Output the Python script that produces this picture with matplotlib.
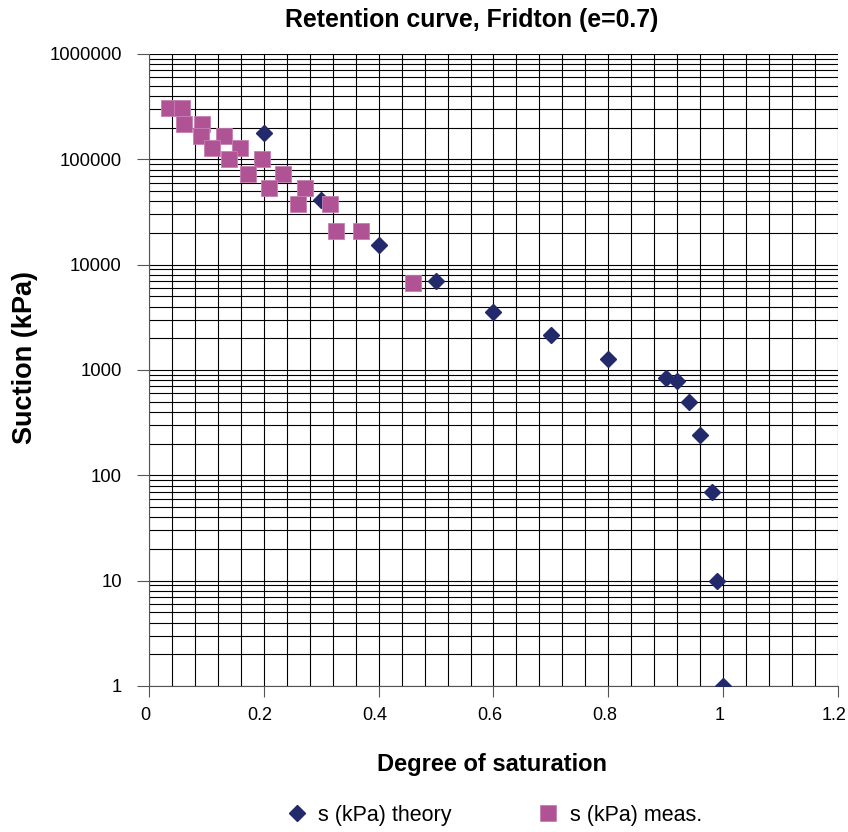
import numpy as np
import matplotlib
matplotlib.use("Agg")
import matplotlib.pyplot as plt
import matplotlib.transforms as mtransforms
from matplotlib.ticker import MultipleLocator, LogLocator, FuncFormatter, NullFormatter

plt.rcParams['font.family'] = ['Liberation Sans', 'DejaVu Sans']

# --- data ---
sr_theory = [0.2, 0.3, 0.4, 0.5, 0.6, 0.7, 0.8, 0.9, 0.92, 0.94, 0.96, 0.98, 0.99, 1.0]
s_theory = [176000, 41000, 15400, 7000, 3580, 2130, 1270, 840, 790, 498, 242, 70, 10, 1]

sr_meas = [0.035, 0.058, 0.061, 0.093, 0.090, 0.131, 0.110, 0.159, 0.139, 0.196,
           0.172, 0.234, 0.209, 0.271, 0.259, 0.316, 0.325, 0.370, 0.460]
s_meas = [310000, 310000, 217000, 217000, 167000, 167000, 128000, 128000, 100000, 100000,
          72500, 72500, 53500, 53500, 37300, 37300, 21000, 21000, 6700]

theory_color = '#222A6C'
meas_color = '#B05395'

fig = plt.figure(figsize=(8.48, 8.32), dpi=100)
ax = fig.add_axes([0.1757, 0.1755, 0.8125, 0.7596])

ax.plot(sr_theory, s_theory, linestyle='none', marker='D', markersize=8.3,
        color=theory_color, markeredgecolor=theory_color, label='s (kPa) theory', zorder=3)
ax.plot(sr_meas, s_meas, linestyle='none', marker='s', markersize=11.5,
        color=meas_color, markeredgecolor='#C77FB3', markeredgewidth=0.6,
        label='s (kPa) meas.', zorder=3)

ax.set_yscale('log')
ax.set_xlim(0, 1.2)
ax.set_ylim(1, 1e6)

ax.xaxis.set_major_locator(MultipleLocator(0.2))
ax.xaxis.set_minor_locator(MultipleLocator(0.04))
ax.xaxis.set_major_formatter(FuncFormatter(lambda v, p: '%g' % round(v, 2)))
ax.yaxis.set_major_locator(LogLocator(base=10, numticks=10))
ax.yaxis.set_minor_locator(LogLocator(base=10, subs=np.arange(2, 10), numticks=20))
ax.yaxis.set_major_formatter(FuncFormatter(lambda v, p: '%d' % round(v)))
ax.yaxis.set_minor_formatter(NullFormatter())

ax.grid(True, which='both', color='black', linewidth=0.8)
ax.set_axisbelow(True)

ax.tick_params(axis='x', which='major', length=8, width=0.8, direction='out',
               labelsize=13, pad=7, color='#555555')
ax.tick_params(axis='y', which='major', length=8.6, width=0.8, direction='out',
               labelsize=13.3, pad=11, color='#555555')
ax.tick_params(which='minor', length=0)

# x tick labels sit a little left of their ticks, as in the reference
shift = mtransforms.ScaledTranslation(-4 / 100, 0, fig.dpi_scale_trans)
for lbl in ax.get_xticklabels():
    lbl.set_transform(lbl.get_transform() + shift)

for side in ['top', 'right']:
    ax.spines[side].set_visible(False)
for side in ['left', 'bottom']:
    ax.spines[side].set_color('#555555')
    ax.spines[side].set_linewidth(0.8)

fig.text(472 / 848, 1 - 20 / 832, 'Retention curve, Fridton (e=0.7)',
         fontsize=17.9, fontweight='bold', ha='center', va='center')
fig.text(492 / 848, 1 - 765 / 832, 'Degree of saturation',
         fontsize=17, fontweight='bold', ha='center', va='center')
fig.text(25 / 848, 1 - 357 / 832, 'Suction (kPa)', rotation=90,
         fontsize=19.5, fontweight='bold', ha='center', va='center')

fig.legend(loc='center', bbox_to_anchor=(494 / 848, 1 - 815 / 832), ncol=2, frameon=False,
           fontsize=15.5, columnspacing=4, handletextpad=0.5, handlelength=1)

fig.savefig('out.png', dpi=100)
